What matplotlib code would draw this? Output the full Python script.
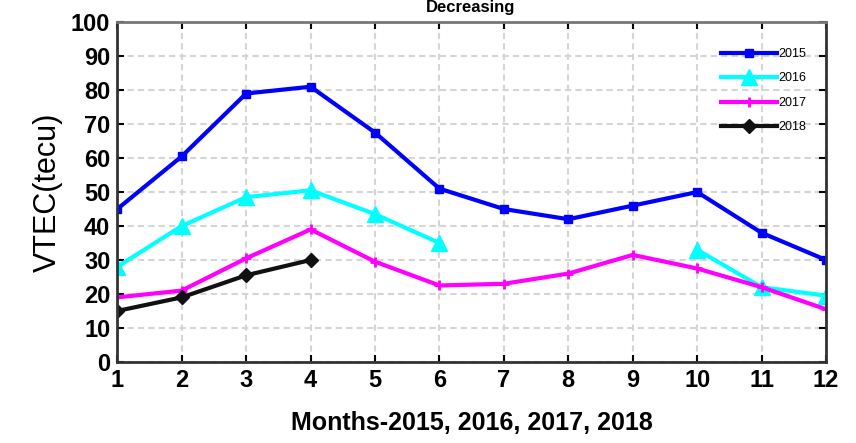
import numpy as np
import matplotlib.pyplot as plt

plt.rcParams['font.family'] = ['Liberation Sans', 'DejaVu Sans']

months = list(range(1, 13))
vtec_2015 = [45, 60.5, 79, 81, 67.5, 51, 45, 42, 46, 50, 38, 30]
vtec_2016 = [28, 40, 48.5, 50.5, 43.5, 35, np.nan, np.nan, np.nan, 33, 22, 19.5]
vtec_2017 = [19, 21, 30.5, 39, 29.5, 22.5, 23, 26, 31.5, 27.5, 22, 15.5]
vtec_2018 = [15, 19, 25.5, 30, np.nan, np.nan, np.nan, np.nan, np.nan, np.nan, np.nan, np.nan]

fig = plt.figure(figsize=(8.56, 4.43), dpi=100)
ax = fig.add_axes([0.137, 0.183, 0.828, 0.767])

ax.plot(months, vtec_2015, color='#0000ff', lw=3, marker='s', ms=6, label='2015')
ax.plot(months, vtec_2016, color='#00ffff', lw=3, marker='^', ms=11, label='2016')
ax.plot(months, vtec_2017, color='#ff00ff', lw=3, marker='+', ms=7, mew=2, label='2017')
ax.plot(months, vtec_2018, color='#111111', lw=3, marker='D', ms=7, label='2018')

ax.set_xlim(1, 12)
ax.set_ylim(0, 100)
ax.set_xticks(months)
ax.set_yticks(range(0, 101, 10))
ax.tick_params(direction='in', length=5, width=1.5, top=True, right=True, labelsize=17, pad=5)
for lbl in ax.get_xticklabels() + ax.get_yticklabels():
    lbl.set_fontweight('bold')
ax.grid(True, color='#d5d5d5', linestyle=(0, (3, 2)), linewidth=1.5)
for s in ax.spines.values():
    s.set_linewidth(2)
    s.set_color('#333333')
ax.spines['top'].set_color('#777777')

ax.set_xlabel('Months-2015, 2016, 2017, 2018', fontsize=18, fontweight='bold', labelpad=14)
ax.set_ylabel('VTEC(tecu)', fontsize=22, labelpad=6)
# title sits right at the top edge
fig.text(0.55, 0.999, 'Decreasing', fontsize=12, fontweight='bold', ha='center', va='top')

leg = ax.legend(loc='upper right', bbox_to_anchor=(0.985, 0.95), fontsize=9, frameon=False,
                handlelength=4.5, handletextpad=0.1, labelspacing=1.0, borderaxespad=0.3)

fig.savefig('out.png', dpi=100)
